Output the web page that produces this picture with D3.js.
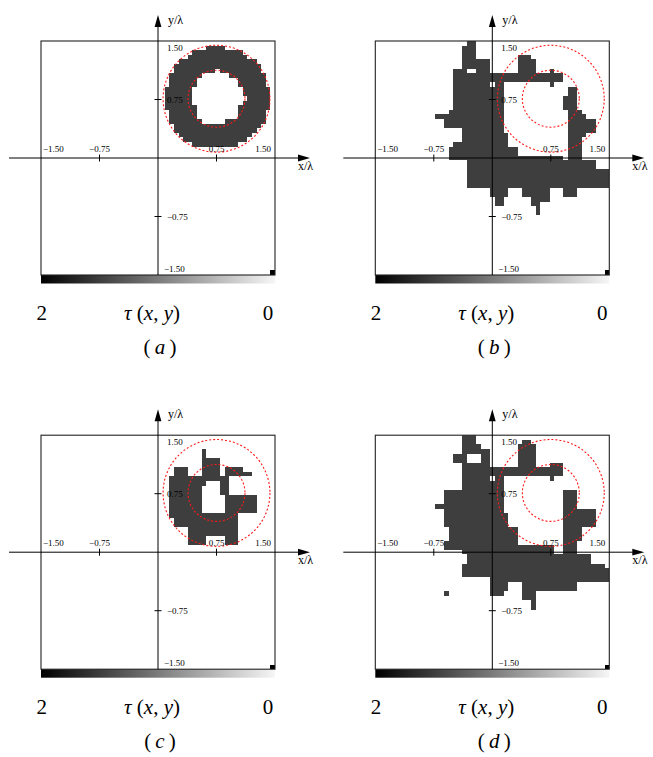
<!DOCTYPE html>
<html>
<head>
<meta charset="utf-8">
<script src="https://cdn.jsdelivr.net/npm/d3@7"></script>
<style>
  body { margin: 0; background: #fff; }
  svg { display: block; }
</style>
</head>
<body>
<svg id="chart" width="653" height="757"></svg>
<script>
// Reconstruction grid: 51 x 51 cells covering [-1.5, 1.5] λ, cell centres at k * step
const gridCells = 51;
const halfSide = 1.5;
const tauDark = 1.5;           // contrast value of the dark cells
const tauRange = [2, 0];       // colour bar runs from 2 (black) to 0 (white)
const tickValues = [-1.5, -0.75, 0.75, 1.5];
const tickLabels = ["\u22121.50", "\u22120.75", "0.75", "1.50"];
const panelLetters = ["a", "b", "c", "d"];
const scattererCentre = [0.75, 0.76];
const scattererRadii = [0.685, 0.365];
// single saturated cell in the lower right corner of every map (tau = 2)
const cornerCell = [-25, 25, 2];

// Dark runs per grid row: [row, firstCol, lastCol, firstCol, lastCol, ...]
const runsA = [
  [24, 11, 14],
  [23, 8, 18],
  [22, 7, 19],
  [21, 5, 21],
  [20, 4, 22],
  [19, 4, 12, 14, 22],
  [18, 3, 9, 16, 23],
  [17, 3, 8, 18, 23],
  [16, 3, 8, 18, 23],
  [15, 2, 7, 19, 24],
  [14, 2, 7, 19, 24],
  [13, 2, 7, 20, 24],
  [12, 2, 7, 19, 24],
  [11, 2, 8, 18, 24],
  [10, 3, 8, 18, 23],
  [9, 3, 8, 18, 23],
  [8, 3, 9, 15, 23],
  [7, 4, 22],
  [6, 4, 21],
  [5, 5, 20],
  [4, 6, 19],
  [3, 8, 17]
];

const runsB = [
  [25, -5, -4],
  [24, -6, -4],
  [23, -6, -4],
  [22, -6, -4, 6, 8],
  [21, -6, -1, 6, 9],
  [20, -6, -1, 6, 9],
  [19, -8, -6, -3, -1, 6, 9, 13, 13],
  [18, -8, 15],
  [17, -8, 15],
  [16, -8, -1, 1, 2, 13, 13],
  [15, -8, 2, 17, 18],
  [14, -8, 2, 17, 18],
  [13, -8, 2, 16, 18],
  [12, -8, 2, 16, 18],
  [11, -8, 2, 16, 18],
  [10, -9, 2, 17, 19],
  [9, -12, 2, 17, 20],
  [8, -10, 2, 17, 22],
  [7, -10, 2, 17, 22],
  [6, -6, 2, 17, 22],
  [5, -6, 3, 17, 20],
  [4, -6, 3, 17, 19],
  [3, -8, 3, 17, 19],
  [2, -9, 5, 17, 19],
  [1, -9, 5, 17, 19],
  [0, -9, 15, 17, 19],
  [-1, -5, 22],
  [-2, -5, 22],
  [-3, -5, 25],
  [-4, -5, 25],
  [-5, -5, 25],
  [-6, -5, 25],
  [-7, 0, 3, 7, 12, 16, 18],
  [-8, 0, 3, 7, 12, 16, 18],
  [-9, 1, 2, 9, 12],
  [-10, 1, 2, 9, 10],
  [-11, 10, 10],
  [-12, 10, 10]
];

const runsC = [
  [22, 10, 10],
  [21, 10, 10],
  [20, 10, 13],
  [19, 10, 13],
  [18, 4, 6, 10, 13, 15, 18],
  [17, 4, 6, 10, 13, 15, 20],
  [16, 3, 15],
  [15, 3, 10, 14, 15],
  [14, 3, 9, 14, 15],
  [13, 3, 9, 14, 15],
  [12, 3, 9, 15, 21],
  [11, 3, 9, 15, 21],
  [10, 3, 9, 15, 21],
  [9, 3, 9, 15, 21],
  [8, 3, 17],
  [7, 4, 17],
  [6, 4, 17],
  [5, 7, 17],
  [4, 7, 17],
  [3, 7, 10, 15, 17],
  [2, 7, 10, 15, 17]
];

const runsD = [
  [25, -6, -4],
  [24, -6, -4, 7, 8],
  [23, -6, -3, 6, 9],
  [22, -6, -1, 6, 9],
  [21, -8, -6, -2, -1, 6, 9],
  [20, -8, -6, -2, -1, 6, 9],
  [19, -6, -1, 6, 9, 13, 15],
  [18, -6, 15],
  [17, -6, 15],
  [16, -6, -1, 1, 2, 13, 13],
  [15, -6, 2],
  [14, -6, 2],
  [13, -10, 2, 16, 18],
  [12, -10, 2, 16, 18],
  [11, -10, 2, 16, 18],
  [10, -12, 2, 16, 18],
  [9, -10, 2, 16, 22],
  [8, -10, 3, 16, 22],
  [7, -10, 3, 16, 22],
  [6, -10, 3, 16, 22],
  [5, -9, 5, 16, 19],
  [4, -9, 5, 16, 19],
  [3, -9, 5, 16, 19],
  [2, -10, 5, 16, 18],
  [1, -10, 13, 16, 18],
  [0, -6, 13, 16, 18],
  [-1, -5, 21],
  [-2, -5, 21],
  [-3, -6, 24],
  [-4, -6, 25],
  [-5, -6, 25],
  [-6, 0, 25],
  [-7, 0, 3, 7, 18],
  [-8, 0, 3, 7, 18],
  [-9, -10, -10, 0, 2, 7, 9],
  [-10, 7, 9],
  [-11, 9, 9],
  [-12, 9, 9]
];

const panelRuns = [runsA, runsB, runsC, runsD];

// ---- layout ----
const boxSize = 234;
const panelOrigins = [[41, 41], [375.3, 41], [41, 435.2], [375.3, 435.2]];
const step = 2 * halfSide / gridCells;
const serif = "'Liberation Serif', 'DejaVu Serif', serif";

const grey = d3.scaleLinear().domain(tauRange).range(["#000000", "#f6f6f6"]);

const svg = d3.select("#chart");
const defs = svg.append("defs");

const grad = defs.append("linearGradient").attr("id", "tauGradient")
  .attr("x1", "0%").attr("x2", "100%").attr("y1", "0%").attr("y2", "0%");
d3.range(0, 1.0001, 0.1).forEach(t => {
  grad.append("stop").attr("offset", (t * 100) + "%")
    .attr("stop-color", grey(tauRange[0] + t * (tauRange[1] - tauRange[0])));
});

function arrowPath(tipX, tipY, dir) {
  const len = 12, hw = 3.4;
  if (dir === "right") {
    return `M${tipX},${tipY}L${tipX - len},${tipY - hw}L${tipX - len},${tipY + hw}Z`;
  }
  return `M${tipX},${tipY}L${tipX - hw},${tipY + len}L${tipX + hw},${tipY + len}Z`;
}

panelOrigins.forEach(([x0, y0], p) => {
  const x = d3.scaleLinear().domain([-halfSide, halfSide]).range([x0, x0 + boxSize]);
  const y = d3.scaleLinear().domain([-halfSide, halfSide]).range([y0 + boxSize, y0]);
  const g = svg.append("g");

  const clipId = "clip" + p;
  defs.append("clipPath").attr("id", clipId)
    .append("rect").attr("x", x0).attr("y", y0).attr("width", boxSize).attr("height", boxSize);

  // reconstructed contrast map
  const cells = [];
  panelRuns[p].forEach(r => {
    for (let k = 1; k < r.length; k += 2) cells.push({ row: r[0], c0: r[k], c1: r[k + 1], tau: tauDark });
  });
  cells.push({ row: cornerCell[0], c0: cornerCell[1], c1: cornerCell[1], tau: cornerCell[2] });

  g.append("g").attr("clip-path", `url(#${clipId})`)
    .selectAll("rect").data(cells).join("rect")
    .attr("x", d => x((d.c0 - 0.5) * step))
    .attr("width", d => x((d.c1 + 0.5) * step) - x((d.c0 - 0.5) * step))
    .attr("y", d => y((d.row + 0.5) * step))
    .attr("height", d => y((d.row - 0.5) * step) - y((d.row + 0.5) * step))
    .attr("fill", d => grey(d.tau))
    .attr("shape-rendering", "crispEdges");

  // colour bar under the map
  g.append("rect")
    .attr("x", x0).attr("y", y0 + boxSize)
    .attr("width", boxSize).attr("height", 8.5)
    .attr("fill", "url(#tauGradient)");

  // frame
  g.append("rect")
    .attr("x", x0).attr("y", y0).attr("width", boxSize).attr("height", boxSize)
    .attr("fill", "none").attr("stroke", "#222").attr("stroke-width", 1.1);

  // axes through the origin
  const ox = x(0), oy = y(0);
  g.append("line").attr("x1", x0 - 32).attr("x2", x0 + boxSize + 24)
    .attr("y1", oy).attr("y2", oy).attr("stroke", "#000").attr("stroke-width", 1);
  g.append("path").attr("d", arrowPath(x0 + boxSize + 35, oy, "right")).attr("fill", "#000");
  g.append("line").attr("x1", ox).attr("x2", ox)
    .attr("y1", y0 + boxSize).attr("y2", y0 - 15).attr("stroke", "#000").attr("stroke-width", 1);
  g.append("path").attr("d", arrowPath(ox, y0 - 26, "up")).attr("fill", "#000");

  // tick marks at ±0.75
  tickValues.filter(v => Math.abs(v) < halfSide).forEach(v => {
    g.append("line").attr("x1", x(v)).attr("x2", x(v)).attr("y1", oy - 3.5).attr("y2", oy + 3.5)
      .attr("stroke", "#000").attr("stroke-width", 1);
    g.append("line").attr("x1", ox - 3.5).attr("x2", ox + 3.5).attr("y1", y(v)).attr("y2", y(v))
      .attr("stroke", "#000").attr("stroke-width", 1);
  });

  // scatterer contours
  scattererRadii.forEach(r => {
    g.append("circle")
      .attr("cx", x(scattererCentre[0])).attr("cy", y(scattererCentre[1]))
      .attr("r", x(r) - x(0))
      .attr("fill", "none").attr("stroke", "#ff1a1a").attr("stroke-width", 1.1)
      .attr("stroke-dasharray", "2,2");
  });

  // tick labels
  const tl = g.append("g").attr("font-family", serif).attr("font-size", 9).attr("fill", "#000");
  tickValues.forEach((v, i) => {
    let anchor = "middle", tx = x(v);
    if (v === -halfSide) { anchor = "start"; tx = x(v) + 2; }
    if (v === halfSide) { anchor = "end"; tx = x(v) - 4; }
    tl.append("text").attr("x", tx).attr("y", oy - 6.5).attr("text-anchor", anchor).text(tickLabels[i]);
    let ty = y(v) + 3.2, lx = ox + 9;
    if (v === halfSide) ty = y(v) + 10;
    if (v === -halfSide) { ty = y(v) - 3.3; lx = ox + 6; }
    tl.append("text").attr("x", lx).attr("y", ty).attr("text-anchor", "start").text(tickLabels[i]);
  });

  // axis names
  g.append("text").attr("x", ox + 10).attr("y", y0 - 17)
    .attr("font-family", serif).attr("font-size", 12).text("y/\u03bb");
  g.append("text").attr("x", x0 + boxSize + 23).attr("y", oy + 12)
    .attr("font-family", serif).attr("font-size", 12).text("x/\u03bb");

  // colour bar annotations
  const by = y0 + boxSize + 45;
  const big = g.append("g").attr("font-family", serif).attr("font-size", 21).attr("fill", "#000");
  big.append("text").attr("x", x0 + 0.7).attr("y", by).attr("text-anchor", "middle").text(tauRange[0]);
  big.append("text").attr("x", x0 + 227).attr("y", by).attr("text-anchor", "middle").text(tauRange[1]);
  const tau = big.append("text").attr("x", x0 + 111).attr("y", by).attr("text-anchor", "middle");
  tau.append("tspan").attr("font-style", "italic").text("\u03c4");
  tau.append("tspan").text(" (");
  tau.append("tspan").attr("font-style", "italic").text("x");
  tau.append("tspan").text(", ");
  tau.append("tspan").attr("font-style", "italic").text("y");
  tau.append("tspan").text(")");

  const cap = big.append("text").attr("x", x0 + 119).attr("y", y0 + boxSize + 79).attr("text-anchor", "middle");
  cap.append("tspan").text("(\u2009");
  cap.append("tspan").attr("font-style", "italic").text(panelLetters[p]);
  cap.append("tspan").text("\u2009)");
});
</script>
</body>
</html>
